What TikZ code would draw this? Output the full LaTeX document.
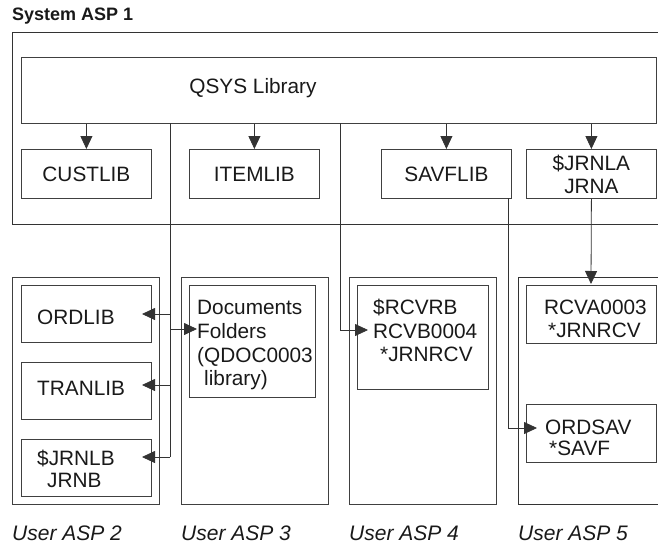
\documentclass[tikz,border=0pt]{standalone}
\usepackage{fontspec}
\setmainfont{Liberation Sans}
\usetikzlibrary{arrows.meta,calc}
\begin{document}
\begin{tikzpicture}[x=1pt,y=-1pt,
  box/.style={draw=black!75, line width=0.8pt, anchor=north west, inner sep=0pt,
    font=\fontsize{20.8}{23}\selectfont, text=black!90},
  txt/.style={anchor=base west, inner sep=0pt, font=\fontsize{20.8}{23}\selectfont, text=black!90},
  ttl/.style={anchor=base west, inner sep=0pt, font=\fontsize{18}{20}\selectfont\bfseries, text=black!90},
  lbl/.style={anchor=base west, inner sep=0pt, font=\fontsize{21}{23}\selectfont\itshape, text=black!90},
  ln/.style={draw=black!80, line width=0.8pt},
  arr/.style={draw=black!80, line width=0.8pt, -{Triangle[length=13pt,width=12pt]}}]
\useasboundingbox (0,0) rectangle (658,544);

% System ASP 1
\node[ttl] (title) at (12,20) {System ASP 1};
\draw[ln] (658,32) -- (12,32) -- (12,224) -- (658,224);

\node[box, minimum width=635, minimum height=66] (qsys) at (21,57) {};
\node[txt, anchor=base] (qsyst) at (253,93) {QSYS Library};

\node[box, minimum width=130, minimum height=49] (custlib) at (21,149) {CUSTLIB};
\node[box, minimum width=130, minimum height=49] (itemlib) at (189,149) {ITEMLIB};
\node[box, minimum width=130, minimum height=49] (savflib) at (381,149) {SAVFLIB};
\node[box, minimum width=130, minimum height=49, align=center] (jrnla) at (526,149) {\$JRNLA\\JRNA};

% User ASPs
\node[box, minimum width=147, minimum height=227] (asp2) at (12,277) {};
\node[box, minimum width=147, minimum height=227] (asp3) at (181,277) {};
\node[box, minimum width=147, minimum height=227] (asp4) at (349,277) {};
\draw[ln] (658,277) -- (518,277) -- (518,504) -- (658,504);

\node[box, minimum width=130, minimum height=57] (ordlib) at (21,285) {};
\node[box, minimum width=130, minimum height=57] (tranlib) at (21,362) {};
\node[box, minimum width=130, minimum height=57] (jrnlb) at (21,439) {};
\node[box, minimum width=126, minimum height=112] (docs) at (189,285) {};
\node[box, minimum width=131, minimum height=104] (rcvb) at (357,285) {};
\node[box, minimum width=130, minimum height=58] (rcva) at (526,285) {};
\node[box, minimum width=130, minimum height=58] (ordsav) at (526,404) {};

\node[txt] (t-ordlib) at (37,324) {ORDLIB};
\node[txt] (t-tranlib) at (37,395) {TRANLIB};
\node[txt] (t-jrnlb1) at (37,465) {\$JRNLB};
\node[txt] (t-jrnlb2) at (47,487) {JRNB};
\node[txt] (t-doc1) at (197,314) {Documents};
\node[txt] (t-doc2) at (197,338) {Folders};
\node[txt] (t-doc3) at (197,362) {(QDOC0003};
\node[txt] (t-doc4) at (204,385) {library)};
\node[txt] (t-rcvb1) at (373,314) {\$RCVRB};
\node[txt] (t-rcvb2) at (373,338) {RCVB0004};
\node[txt] (t-rcvb3) at (380,361) {*JRNRCV};
\node[txt] (t-rcva1) at (544,314) {RCVA0003};
\node[txt] (t-rcva2) at (548,337) {*JRNRCV};
\node[txt] (t-ordsav1) at (545,434) {ORDSAV};
\node[txt] (t-ordsav2) at (549,455) {*SAVF};

\node[lbl] (l2) at (12,540) {User ASP 2};
\node[lbl] (l3) at (181,540) {User ASP 3};
\node[lbl] (l4) at (349,540) {User ASP 4};
\node[lbl] (l5) at (518,540) {User ASP 5};

% connectors from QSYS
\draw[arr] (custlib.north |- qsys.south) -- (custlib.north);
\draw[arr] (itemlib.north |- qsys.south) -- (itemlib.north);
\draw[arr] (savflib.north |- qsys.south) -- (savflib.north);
\draw[arr] (jrnla.north |- qsys.south) -- (jrnla.north);

% trunk to ASP 2 / ASP 3
\coordinate (ta) at (170,123);
\coordinate (ja) at (170,314);
\coordinate (jb) at (170,329);
\coordinate (jc) at (170,385);
\coordinate (jd) at (170,457);
\coordinate (in-ordlib) at (142,314);
\coordinate (in-docs) at (197,329);
\coordinate (in-tranlib) at (142,385);
\coordinate (in-jrnlb) at (142,457);
\draw[ln] (ta) -- (jd);
\draw[arr] (ja) -- (in-ordlib);
\draw[arr] (jb) -- (in-docs);
\draw[arr] (jc) -- (in-tranlib);
\draw[arr] (jd) -- (in-jrnlb);

% trunk to ASP 4
\coordinate (tb) at (340,123);
\coordinate (in-rcvb) at (368,330);
\draw[arr] (tb) |- (in-rcvb);

% SAVFLIB to ORDSAV
\coordinate (sv) at (508,198);
\coordinate (in-ordsav) at (537,428);
\draw[arr] (sv) |- (in-ordsav);

% JRNLA to RCVA
\coordinate (in-rcva) at (591,284);
\draw[arr] (jrnla.south) -- (in-rcva);
\end{tikzpicture}
\end{document}
